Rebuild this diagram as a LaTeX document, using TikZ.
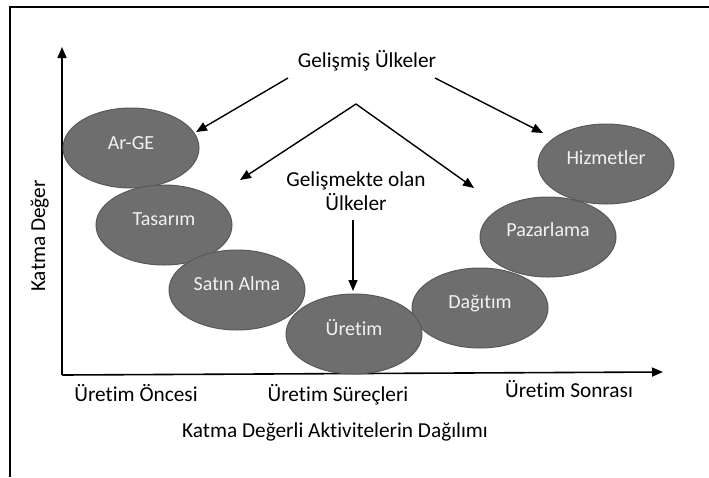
\documentclass[tikz,border=0pt]{standalone}
\usepackage{fontspec}
\setmainfont{Carlito}[Ligatures=CommonOff]
\usetikzlibrary{arrows.meta,shapes.geometric}
\definecolor{blobfill}{RGB}{110,110,110}
\definecolor{blobedge}{RGB}{88,88,88}
\definecolor{blobtxt}{RGB}{242,242,242}
\begin{document}
\begin{tikzpicture}[x=1pt,y=-1pt,
  blob/.style={ellipse,draw=blobedge,fill=blobfill,line width=1pt,minimum width=136pt,minimum height=80pt,inner sep=0pt},
  blobtext/.style={anchor=base,text=blobtxt,font=\fontsize{20}{22}\selectfont,inner sep=0pt},
  lbl/.style={anchor=base,font=\fontsize{21.3}{25}\selectfont,inner sep=0pt},
  arr/.style={line width=1.4pt,-{Triangle[length=11pt,width=9pt]}},
  axis/.style={line width=1.6pt,-{Triangle[length=11pt,width=9pt]}}]
\useasboundingbox (0,0) rectangle (709,477);
% frame (top and left only)
\draw[line width=2pt] (10,477) -- (10,6.5) -- (709,6.5);
% axes
\coordinate (o) at (62,375);
\coordinate (ytip) at (62,47);
\coordinate (xtip) at (663,372);
\draw[axis] (o) -- (ytip);
\draw[axis] (o) -- (xtip);
% ellipses
\node[blob] (arge) at (131,148) {};
\node[blob] (tas) at (164,225) {};
\node[blob] (satin) at (237,290) {};
\node[blob] (dag) at (480,308) {};
\node[blob] (uret) at (354,334) {};
\node[blob] (paz) at (548,237) {};
\node[blob] (hiz) at (606,164) {};
\node[blobtext] (targe) at (131,149) {Ar-GE};
\node[blobtext] (ttas) at (164,225) {Tasarım};
\node[blobtext] (tsatin) at (237,290) {Satın Alma};
\node[blobtext] (turet) at (354,335) {Üretim};
\node[blobtext] (tdag) at (480,308) {Dağıtım};
\node[blobtext] (tpaz) at (548,236) {Pazarlama};
\node[blobtext] (thiz) at (606,164) {Hizmetler};
% labels
\node[lbl] (gelismis) at (367,67) {Gelişmiş Ülkeler};
\node[lbl] (gelismekte1) at (356,186) {Gelişmekte olan};
\node[lbl] (gelismekte2) at (356,210) {Ülkeler};
\node[lbl] (once) at (136,401) {Üretim Öncesi};
\node[lbl] (surec) at (338,401) {Üretim Süreçleri};
\node[lbl] (sonra) at (569,397) {Üretim Sonrası};
\node[lbl] (xlab) at (335,437) {Katma Değerli Aktivitelerin Dağılımı};
\node[lbl,rotate=90] (ylab) at (45,236) {Katma Değer};
% arrows
\coordinate (s1) at (288,78);
\coordinate (s23) at (356,104);
\coordinate (s4) at (435,78);
\coordinate (t1) at (196,132);
\coordinate (t2) at (240,180);
\coordinate (t3) at (474,188);
\coordinate (t4) at (543,133);
\coordinate (s5) at (353,220);
\coordinate (t5) at (353,291);
\draw[arr] (s1) -- (t1);
\draw[arr] (s23) -- (t2);
\draw[arr] (s23) -- (t3);
\draw[arr] (s4) -- (t4);
\draw[arr] (s5) -- (t5);
\end{tikzpicture}
\end{document}
